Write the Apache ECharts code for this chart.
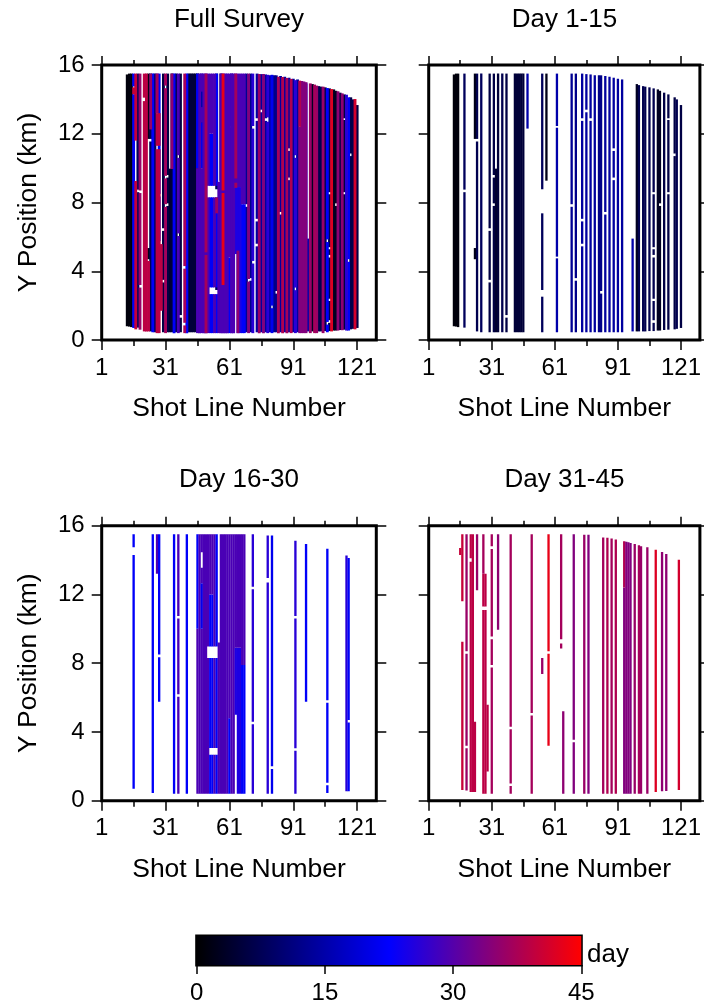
<!DOCTYPE html>
<html><head><meta charset="utf-8">
<script src="https://cdn.jsdelivr.net/npm/echarts@6/dist/echarts.min.js"></script>
<style>html,body{margin:0;padding:0;background:#fff}#c{width:704px;height:1005px}</style>
</head><body><div id="c"></div>
<script>
// ---------------- data ----------------
const panelTitles = ['Full Survey', 'Day 1-15', 'Day 16-30', 'Day 31-45'];
const xLabelTicks = [1, 31, 61, 91, 121];
const xMinorTicks = [16, 46, 76, 106];
const yTicks = [0, 4, 8, 12, 16];
const cbarTicks = [0, 15, 30, 45];
const cbarStopDays = [0, 22.5, 45];
const cbarStopColors = ['#000000', '#0000ff', '#ff0000'];

// segments: [shot line, y start (km), y end (km), day]
const segDay1to15 = [
  [13,0.8,15.45,1],[14,0.78,15.5,1],[15,0.75,15.5,1],
  [18,0.72,8.6,8],[18,8.75,15.5,8],
  [23,11.7,15.5,2],[23,4.7,5.35,2],
  [24,0.5,11.55,7],[24,11.7,15.5,7],
  [26,0.45,15.5,8],
  [30,0.45,3.35,6],[30,3.5,6.35,6],[30,6.5,15.5,6],
  [32,0.45,7.8,6],[32,7.95,9.45,6],[32,9.6,15.5,6],
  [33,0.45,9.97,4],
  [34,0.45,15.5,5],
  [36,0.45,15.5,7],
  [38,0.45,1.3,6],[38,1.45,15.5,6],
  [42,0.45,15.5,5],[43,0.45,15.5,5],[44,0.45,15.5,5],[45,0.45,15.5,5],[46,0.45,15.5,5],
  [48,12.3,15.5,15],
  [55,0.45,2.52,8],[55,2.91,7.37,8],[55,8.77,15.5,8],
  [57,9.27,15.5,2],
  [62,0.45,4.75,15],[62,4.85,12.35,15],[62,12.45,15.5,15],
  [69,0.45,7.75,13],[69,7.9,15.5,13],
  [71,0.45,3.45,12],[71,3.6,15.5,12],
  [74,0.45,5.45,14],[74,5.6,6.9,14],[74,7.05,12.75,14],[74,12.9,15.5,14],
  [76,0.45,13.25,14],[76,13.4,15.47,14],
  [78,0.45,12.75,14],[78,12.9,15.45,14],
  [80,0.45,15.41,14],
  [82,0.45,15.4,12],[83,0.45,2.7,12],[83,2.85,15.4,12],
  [85,0.45,7.3,14],[85,7.45,15.36,14],
  [87,0.45,15.32,14],
  [89,0.45,9.3,14],[89,9.45,11.0,14],[89,11.15,15.26,14],
  [91,0.45,15.2,14],
  [93,0.45,15.16,14],
  [98,0.5,5.9,15],
  [100,0.5,14.89,3],
  [101,0.5,14.83,7],
  [103,0.5,14.77,7],
  [104,0.5,14.74,7],
  [106,0.52,14.7,7],
  [108,0.52,1.0,7],[108,1.15,2.27,7],[108,2.4,4.8,7],[108,4.95,5.28,7],[108,5.4,8.48,7],[108,8.6,14.64,7],
  [110,0.55,14.58,3],[111,0.55,7.8,3],[111,7.95,14.5,3],
  [113,0.58,14.39,6],
  [115,0.6,8.48,6],[115,8.6,12.8,6],[115,12.9,14.29,6],
  [118,0.62,10.7,6],[118,10.85,14.12,6],
  [119,0.65,14.0,7],
  [121,0.7,13.67,6]
];

const segDay16to30 = [
  [16,0.7,14.3,22],[16,14.75,15.5,22],
  [25,0.45,15.5,22],
  [27,13.2,15.5,29],
  [28,5.75,8.35,22],[28,8.5,15.5,22],
  [35,0.4,15.5,22],
  [37,0.4,6.05,29],[37,6.2,10.6,29],[37,10.75,15.5,29],
  [41,0.4,15.5,22],
  [46,0.4,10.0,29],[46,10.0,15.5,22],
  [47,0.4,15.5,29],
  [48,0.4,10.0,29],[48,10.0,12.65,21],[48,12.65,13.55,29],[48,14.45,15.5,29],
  [49,0.4,15.5,29],
  [50,0.4,15.5,29],
  [51,0.4,8.3,29],[51,8.97,15.5,29],
  [52,0.4,2.67,22],[52,3.06,8.3,22],[52,8.97,12.0,22],[52,12.0,15.5,29],
  [53,0.4,2.67,22],[53,3.06,8.3,22],[53,8.97,12.0,22],[53,12.0,15.5,29],
  [54,0.4,2.67,29],[54,3.06,8.3,29],[54,8.97,15.5,29],
  [55,0.4,2.67,22],[55,3.06,8.3,22],[55,8.97,15.5,22],
  [56,0.4,9.2,29],
  [57,0.4,15.5,29],[58,0.4,15.5,29],[59,0.4,15.5,29],[60,0.4,15.5,29],
  [61,0.4,4.8,22],[61,4.8,15.5,29],
  [62,0.4,15.5,29],[63,0.4,15.5,29],
  [64,5.0,8.9,25],[64,8.9,15.5,29],
  [65,0.4,8.9,25],[65,8.9,15.5,29],
  [66,0.4,8.9,25],[66,8.9,15.5,29],
  [67,0.4,7.9,22],[67,7.9,15.5,29],
  [68,0.4,7.9,22],[68,7.9,15.5,29],
  [72,0.4,4.45,26],[72,4.6,12.3,26],[72,12.45,15.5,26],
  [79,0.4,12.7,26],[79,12.95,15.43,26],
  [81,0.4,1.85,21],[81,2.0,15.43,21],
  [92,0.4,2.9,26],[92,3.05,10.6,26],[92,10.75,15.12,26],
  [97,5.75,14.93,22],
  [107,0.45,0.9,22],[107,1.05,5.7,22],[107,5.85,14.66,22],
  [116,0.55,14.27,26],
  [117,0.55,4.55,22],[117,4.7,14.12,22]
];

const segDay31to45 = [
  [16,14.3,14.7,40],
  [17,0.62,9.25,40],[17,11.6,15.5,40],
  [19,0.6,3.05,36],[19,3.2,8.55,36],[19,8.7,15.5,36],
  [21,0.5,13.9,39],[21,14.1,15.5,39],[22,0.5,15.5,39],[23,0.5,4.6,39],
  [24,12.25,15.5,36],
  [27,0.4,11.1,39],[27,11.3,13.2,39],[27,13.2,15.5,37],
  [28,0.4,11.1,39],[28,11.3,13.2,39],[29,1.7,5.58,39],
  [31,0.4,7.75,37],[31,7.9,9.4,37],[31,9.55,14.65,37],[31,14.8,15.5,37],
  [34,9.95,15.5,35],
  [40,0.4,0.85,37],[40,1.0,4.15,37],[40,4.3,15.5,37],
  [50,0.4,4.95,37],[50,5.1,15.5,37],
  [55,7.37,8.3,36],
  [58,3.2,8.55,43],[58,8.7,15.5,43],
  [64,9.4,15.5,37],[64,8.85,9.15,37],
  [65,0.4,5.2,35],
  [70,0.4,3.4,34],[70,3.55,15.5,34],
  [75,0.4,15.48,36],
  [77,0.4,15.48,34],
  [84,0.4,15.32,37],
  [86,0.4,15.3,38],
  [88,0.4,15.25,37],
  [90,0.4,15.19,38],
  [94,0.4,12.4,34],[94,12.4,15.09,38],
  [95,0.4,15.07,34],[96,0.4,15.04,34],[97,0.4,15.0,34],
  [99,0.4,14.93,36],
  [101,0.4,14.86,37],
  [102,0.4,14.8,36],
  [105,0.4,14.74,36],
  [109,0.5,14.6,42],
  [112,0.55,14.47,35],
  [114,0.57,14.35,35],
  [120,0.62,14.02,41]
];

// --------------- helpers ---------------
function hexToRgb(h){ return [parseInt(h.slice(1,3),16), parseInt(h.slice(3,5),16), parseInt(h.slice(5,7),16)]; }
function dayColor(d){
  const n = cbarStopDays.length;
  if (d <= cbarStopDays[0]) return cbarStopColors[0];
  if (d >= cbarStopDays[n-1]) return cbarStopColors[n-1];
  for (let i = 0; i < n-1; i++){
    if (d <= cbarStopDays[i+1]){
      const t = (d - cbarStopDays[i]) / (cbarStopDays[i+1] - cbarStopDays[i]);
      const a = hexToRgb(cbarStopColors[i]), b = hexToRgb(cbarStopColors[i+1]);
      const c = a.map((v, k) => Math.round(v + (b[k] - v) * t));
      return 'rgb(' + c.join(',') + ')';
    }
  }
}
function makeRender(unitWidth){
  return function(params, api){
    const x = api.value(0), y0 = api.value(1), y1 = api.value(2), d = api.value(3);
    const a = api.coord([x - unitWidth/2, y1]);
    const b = api.coord([x + unitWidth/2, y0]);
    return { type:'rect', shape:{ x:a[0], y:a[1], width:b[0]-a[0], height:b[1]-a[1] }, style:{ fill: dayColor(d) } };
  };
}

const FONT = 'Liberation Sans, Arial, Helvetica, sans-serif';
const gridsPos = [
  {left:101.7, top:65, width:274.6, height:275},
  {left:428.7, top:65, width:271.5, height:275},
  {left:101.7, top:525.7, width:274.6, height:275},
  {left:428.7, top:525.7, width:271.5, height:275}
];
const grids = gridsPos.map(g => Object.assign({show:true, borderColor:'#000', borderWidth:3, backgroundColor:'transparent', containLabel:false}, g));
grids.push({left:196.7, top:936, width:384.6, height:30, show:true, borderColor:'#000', borderWidth:3, backgroundColor:'transparent'});

const tickStyle = {color:'#000', width:1.5};
const xAxes = [], yAxes = [];
for (let g = 0; g < 4; g++){
  const base = {gridIndex:g, type:'value', min:1, max:130, axisLine:{show:false}, splitLine:{show:false}};
  xAxes.push(Object.assign({}, base, {position:'bottom',
    axisTick:{show:true, customValues:xLabelTicks, length:10, lineStyle:tickStyle},
    axisLabel:{show:true, customValues:xLabelTicks, fontSize:24, color:'#000', margin:16, fontFamily:FONT},
    name:'Shot Line Number', nameLocation:'middle', nameGap:55,
    nameTextStyle:{fontSize:26.5, color:'#000', fontFamily:FONT}}));
  xAxes.push(Object.assign({}, base, {position:'bottom',
    axisTick:{show:true, customValues:xMinorTicks, length:6, lineStyle:tickStyle}, axisLabel:{show:false}}));
  xAxes.push(Object.assign({}, base, {position:'top',
    axisTick:{show:true, customValues:xLabelTicks, length:9, lineStyle:tickStyle}, axisLabel:{show:false}}));
  xAxes.push(Object.assign({}, base, {position:'top',
    axisTick:{show:true, customValues:xMinorTicks, length:5, lineStyle:tickStyle}, axisLabel:{show:false}}));
  const ybase = {gridIndex:g, type:'value', min:yTicks[0], max:yTicks[yTicks.length-1], interval:yTicks[1]-yTicks[0], axisLine:{show:false}, splitLine:{show:false}};
  const showY = (g % 2 === 0);
  yAxes.push(Object.assign({}, ybase, {position:'left',
    axisTick:{show:true, length:10, lineStyle:tickStyle},
    axisLabel:{show:showY, fontSize:24, color:'#000', margin:17, fontFamily:FONT},
    name: showY ? 'Y Position (km)' : '', nameLocation:'middle', nameGap:60,
    nameTextStyle:{fontSize:26.5, color:'#000', fontFamily:FONT}}));
  yAxes.push(Object.assign({}, ybase, {position:'right',
    axisTick:{show:true, length:10, lineStyle:tickStyle}, axisLabel:{show:false}}));
}
// colorbar axes
xAxes.push({gridIndex:4, type:'value', min:cbarTicks[0], max:cbarTicks[cbarTicks.length-1], interval:cbarTicks[1]-cbarTicks[0],
  position:'bottom', axisLine:{show:false}, splitLine:{show:false},
  axisTick:{show:true, length:9, lineStyle:tickStyle},
  axisLabel:{show:true, fontSize:24, color:'#000', margin:16, fontFamily:FONT}});
yAxes.push({gridIndex:4, type:'value', min:0, max:1, show:false});

const allSegs = segDay1to15.concat(segDay16to30, segDay31to45).slice().sort((a,b) => a[3]-b[3]);
const panelData = [allSegs, segDay1to15, segDay16to30, segDay31to45];

const series = panelData.map((data, g) => ({
  type:'custom', xAxisIndex:4*g, yAxisIndex:2*g, data:data,
  encode:{x:0, y:[1,2]}, clip:true, silent:true,
  renderItem: makeRender(g === 0 ? 1.35 : 1.1)
}));

const cbarData = [[cbarTicks[0], cbarTicks[cbarTicks.length-1]]];
series.push({
  type:'custom', xAxisIndex:16, yAxisIndex:8, data:cbarData, silent:true,
  encode:{x:[0,1]},
  renderItem: function(params, api){
    const a = api.coord([api.value(0), 1]);
    const b = api.coord([api.value(1), 0]);
    const span = cbarTicks[cbarTicks.length-1] - cbarTicks[0];
    const stops = cbarStopDays.map((d,i) => ({offset:(d - cbarTicks[0])/span, color:cbarStopColors[i]}));
    return {type:'rect', shape:{x:a[0], y:a[1], width:b[0]-a[0], height:b[1]-a[1]},
      style:{fill:new echarts.graphic.LinearGradient(0,0,1,0,stops)}};
  }
});

const titleGraphics = panelTitles.map((t, g) => ({
  type:'text', x: gridsPos[g].left + gridsPos[g].width/2, y: gridsPos[g].top - 45.5,
  style:{text:t, font:'26px ' + FONT, fill:'#000', align:'center', verticalAlign:'middle'}
}));
titleGraphics.push({type:'text', x:587, y:955, style:{text:'day', font:'26px ' + FONT, fill:'#000', align:'left', verticalAlign:'middle'}});

const chart = echarts.init(document.getElementById('c'), null, {renderer:'canvas'});
chart.setOption({
  animation:false,
  backgroundColor:'#ffffff',
  grid:grids, xAxis:xAxes, yAxis:yAxes, series:series,
  graphic:titleGraphics
});
</script></body></html>
